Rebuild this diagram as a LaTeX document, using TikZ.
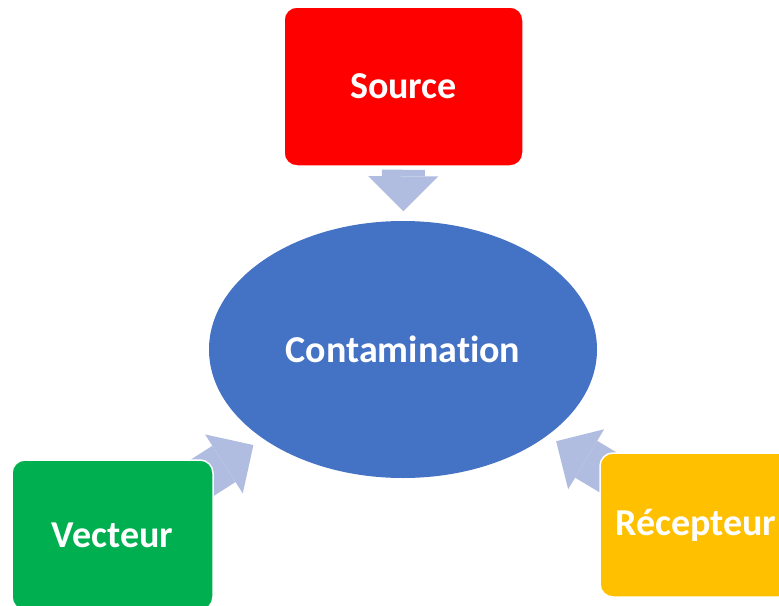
\documentclass[tikz,border=0pt]{standalone}
\usepackage{fontspec}
\setmainfont[Ligatures=NoCommon]{Carlito}
\usetikzlibrary{shapes.geometric,arrows.meta,backgrounds}
\definecolor{srcred}{HTML}{FF0000}
\definecolor{vecgreen}{HTML}{00B050}
\definecolor{recyellow}{HTML}{FFC000}
\definecolor{contblue}{HTML}{4472C4}
\definecolor{feedblue}{HTML}{B0BCE0}
\begin{document}
\begin{tikzpicture}[x=1pt,y=-1pt,
                    every node/.style={draw=white, line width=1.5pt, inner sep=0pt, text=white,
                                       font=\bfseries\fontsize{38}{45}\selectfont},
                    box/.style={rectangle, rounded corners=13pt},
                    feed/.style={draw=feedblue, line width=43pt,
                                 -{Triangle[length=35pt,width=70pt,line width=0pt]}}
                    ]
                    \useasboundingbox (0,0) rectangle (779,605);
                    \clip (0,0) rectangle (779,605);

                    \node[box, fill=srcred, minimum width=239pt, minimum height=159pt] (source) at (403.5,86.5) {Source};
                    \node[box, fill=vecgreen, minimum width=201pt, minimum height=150pt] (vecteur) at (112.5,535) {Vecteur};
                    \node[box, fill=recyellow, minimum width=192pt, minimum height=144pt] (recepteur) at (696,525) {Récepteur};
                    \node[ellipse, draw=none, fill=contblue, minimum width=388pt, minimum height=257pt] (contamination) at (403,349.5) {Contamination};

                    \begin{scope}[on background layer]
                        \draw[feed, shorten <=3pt, shorten >=9pt] (source) -- (contamination);
                        \foreach \i/\j in {vecteur/11pt,recepteur/10pt}{
                            \draw[feed, shorten <=-20pt, shorten >=\j] (\i) -- (contamination);
                        }
                    \end{scope}
                \end{tikzpicture}
\end{document}
